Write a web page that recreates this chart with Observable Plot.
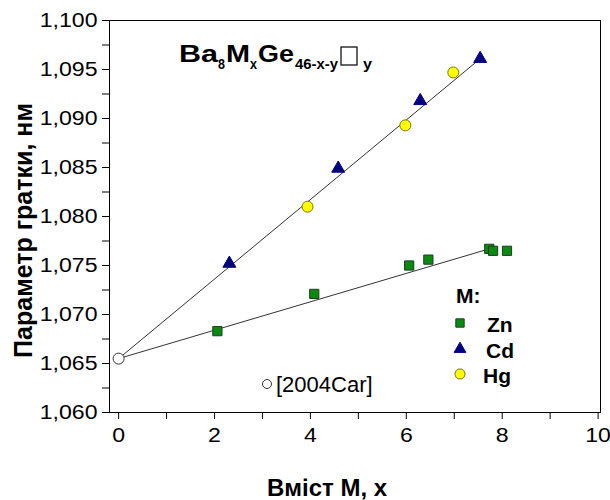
<!DOCTYPE html>
<html><head><meta charset="utf-8">
<script src="https://cdn.jsdelivr.net/npm/d3@7"></script>
<script src="https://cdn.jsdelivr.net/npm/@observablehq/plot@0.6"></script>
<style>
body{margin:0;background:#fff}
svg{font-family:"Liberation Sans",Arial,sans-serif}
</style>
</head><body><div id="chart"></div>
<script>
// Data
const znX = [2.06, 4.08, 6.06, 6.46, 7.73, 7.81, 8.10];
const znY = [1.0683, 1.0721, 1.0750, 1.0756, 1.0767, 1.0765, 1.0765];
const cdX = [2.31, 4.58, 6.29, 7.54];
const cdY = [1.0752, 1.0849, 1.0918, 1.0961];
const hgX = [3.94, 5.98, 6.98];
const hgY = [1.0810, 1.0893, 1.0947];
const refX = [0];
const refY = [1.0655];
const fitCdHgX = [0, 7.54];
const fitCdHgY = [1.0655, 1.0961];
const fitZnX = [0, 7.73];
const fitZnY = [1.0655, 1.0767];
const xMajor = [0, 2, 4, 6, 8, 10];
const xMinor = [1, 3, 5, 7, 9];
const yMajor = [1.060, 1.065, 1.070, 1.075, 1.080, 1.085, 1.090, 1.095, 1.100];
const yMinor = [1.0625, 1.0675, 1.0725, 1.0775, 1.0825, 1.0875, 1.0925, 1.0975];
const legendTitle = "M:";
const legendLabels = ["Zn", "Cd", "Hg"];
const refLabel = "[2004Car]";
const xLabel = "Вміст М, х";
const yLabel = "Параметр гратки, нм";
const titleParts = ["Ba", "8", "M", "x", "Ge", "46-x-y", "y"];

const pts = (xs, ys) => xs.map((x, i) => ({x, y: ys[i]}));
const fmtY = d => d3.format(".3f")(d).replace(".", ",");

const green = "#0b8a12", navy = "#000080", yellow = "#ffff00";

const plot = Plot.plot({
  width: 610,
  height: 500,
  marginLeft: 109,
  marginRight: 10,
  marginTop: 20,
  marginBottom: 88,
  style: {fontFamily: "Liberation Sans, Arial, sans-serif", background: "#fff", color: "#000"},
  x: {domain: [-0.19, 10.05]},
  y: {domain: [1.060, 1.100]},
  marks: [
    Plot.frame({stroke: "#000", strokeWidth: 1}),
    Plot.axisX({ticks: xMajor, tickSize: 7, tickPadding: 8, fontSize: 21, tickFormat: d3.format("d"), label: null}),
    Plot.axisX({ticks: xMinor, tickSize: 7, tickFormat: () => "", label: null}),
    Plot.axisY({ticks: yMajor, tickSize: 7, tickPadding: 5, fontSize: 21, tickFormat: fmtY, label: null}),
    Plot.axisY({ticks: yMinor, tickSize: 7, tickFormat: () => "", label: null}),
    Plot.text([xLabel], {frameAnchor: "bottom", textAnchor: "middle", lineAnchor: "middle", dx: -28, dy: 76, fontSize: 24, fontWeight: "bold", fill: "#000"}),
    Plot.text([yLabel], {frameAnchor: "left", textAnchor: "middle", lineAnchor: "middle", rotate: -90, dx: -86, dy: 14, fontSize: 25, fontWeight: "bold", fill: "#000"}),
    Plot.line(pts(fitCdHgX, fitCdHgY), {x: "x", y: "y", stroke: "#333", strokeWidth: 1}),
    Plot.line(pts(fitZnX, fitZnY), {x: "x", y: "y", stroke: "#333", strokeWidth: 1}),
    Plot.dot(pts(znX, znY), {x: "x", y: "y", symbol: "square", r: 5.2, fill: green, stroke: "#1d3d1d", strokeWidth: 1}),
    Plot.dot(pts(cdX, cdY), {x: "x", y: "y", symbol: "triangle", r: 4.8, fill: navy, stroke: navy, strokeWidth: 1}),
    Plot.dot(pts(hgX, hgY), {x: "x", y: "y", symbol: "circle", r: 5.5, fill: yellow, stroke: "#77770a", strokeWidth: 1}),
    Plot.dot(pts(refX, refY), {x: "x", y: "y", symbol: "circle", r: 5.5, fill: "#fff", stroke: "#333", strokeWidth: 1})
  ]
});

document.getElementById("chart").appendChild(plot);

const svg = d3.select(plot);

// slightly wider tick glyphs, as in the reference
svg.selectAll('g[aria-label="y-axis tick label"] text, g[aria-label="x-axis tick label"] text')
  .attr("transform", function() { return (this.getAttribute("transform") || "") + " scale(1.1,1)"; });

// Title formula Ba8MxGe46-x-y□y
const tg = svg.append("g").attr("text-anchor", "start").attr("font-weight", "bold").attr("fill", "#000");
const tLayout = [
  {x: 179, w: 39, sub: false}, {x: 218, w: 7, sub: true}, {x: 226, w: 24, sub: false},
  {x: 250, w: 7, sub: true}, {x: 258, w: 36, sub: false}, {x: 295, w: 43, sub: true}, {x: 363, w: 9, sub: true}
];
titleParts.forEach((t, i) => {
  const L = tLayout[i];
  tg.append("text").attr("x", L.x).attr("y", L.sub ? 69 : 62)
    .attr("font-size", L.sub ? 14 : 24)
    .attr("textLength", L.w).attr("lengthAdjust", "spacingAndGlyphs").text(t);
});
tg.append("rect").attr("x", 341).attr("y", 47).attr("width", 16).attr("height", 18)
  .attr("fill", "none").attr("stroke", "#000").attr("stroke-width", 1.2);

// Legend
const lg = svg.append("g").attr("text-anchor", "start").attr("fill", "#000");
lg.append("text").attr("x", 456).attr("y", 303).attr("font-weight", "bold").attr("font-size", 21).text(legendTitle);
const syms = [
  {type: d3.symbolSquare, size: 70, fill: green, stroke: "#1d3d1d"},
  {type: d3.symbolTriangle, size: 60, fill: navy, stroke: navy},
  {type: d3.symbolCircle, size: 80, fill: yellow, stroke: "#77770a"}
];
const legendY = [323, 349, 374];
const legendTextX = [487, 486, 483];
legendLabels.forEach((lab, i) => {
  lg.append("path").attr("d", d3.symbol(syms[i].type, syms[i].size)())
    .attr("transform", `translate(460,${legendY[i]})`)
    .attr("fill", syms[i].fill).attr("stroke", syms[i].stroke);
  lg.append("text").attr("x", legendTextX[i]).attr("y", legendY[i] + 9)
    .attr("font-weight", "bold").attr("font-size", 21).text(lab);
});

// Reference annotation
svg.append("circle").attr("cx", 267).attr("cy", 384).attr("r", 4.5).attr("fill", "#fff").attr("stroke", "#333");
svg.append("text").attr("text-anchor", "start").attr("x", 276).attr("y", 392).attr("font-size", 22).attr("fill", "#000").text(refLabel);
</script>
</body></html>
